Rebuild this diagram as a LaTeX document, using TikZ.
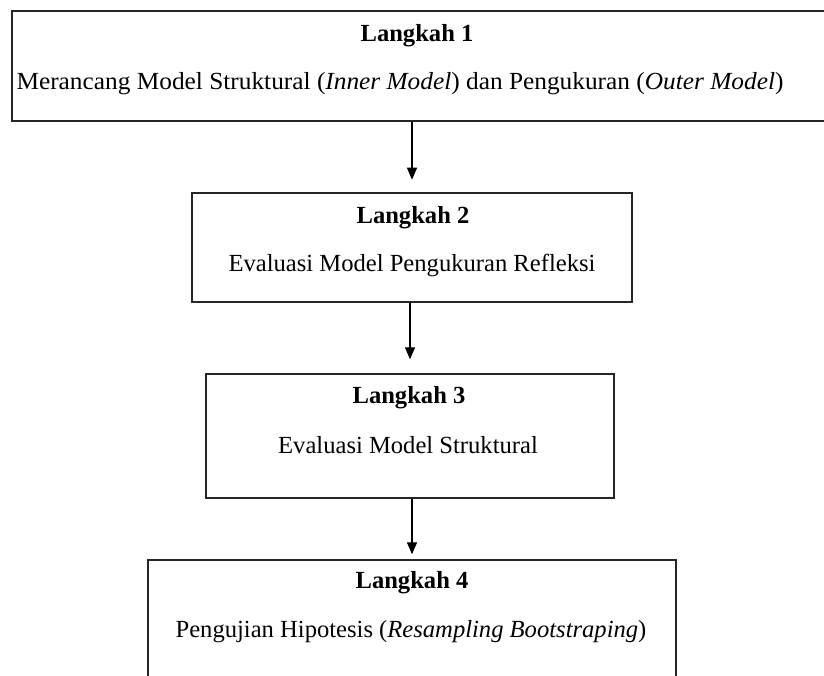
\documentclass[tikz,border=0pt]{standalone}
\usepackage{fontspec}
\setmainfont{Liberation Serif}
\usetikzlibrary{arrows.meta}
\def\stepfont{\fontsize{12.3pt}{15pt}\selectfont}
\tikzset{stepbox/.style={draw=black!85, line width=0.7pt, rectangle, inner sep=0pt},
  steptext/.style={font=\stepfont},
  steptitle/.style={font=\stepfont\bfseries}}
\def\boxnode{\node[stepbox]}
\def\drawflow{\draw[-{Triangle[length=6pt,width=5pt]}, line width=0.6pt]}

\begin{document}
\begin{tikzpicture}[x=0.5pt,y=-0.5pt]
\useasboundingbox (0,0) rectangle (824,675);
% kotak langkah
\boxnode[minimum width=409pt, minimum height=55pt] (box1) at (421,66) {};
\boxnode[minimum width=220pt, minimum height=54.5pt] (box2) at (412,247.5) {};
\boxnode[minimum width=204pt, minimum height=62pt] (box3) at (410,436) {};
\boxnode[minimum width=264pt, minimum height=70pt] (box4) at (412,630) {};
% teks
\node[steptitle] (lang1) at (417,36) {Langkah 1};
\node[steptext] (desc1) at (400,84) {\scalebox{1.03}[1]{Merancang Model Struktural (\textit{Inner Model}) dan Pengukuran (\textit{Outer Model})}};
\node[steptitle] (lang2) at (413,218) {Langkah 2};
\node[steptext] (desc2) at (412,265) {Evaluasi Model Pengukuran Refleksi};
\node[steptitle] (lang3) at (409,398) {Langkah 3};
\node[steptext] (desc3) at (408,445) {Evaluasi Model Struktural};
\node[steptitle] (lang4) at (412,583) {Langkah 4};
\node[steptext] (desc4) at (411,632) {Pengujian Hipotesis (\textit{Resampling Bootstraping})};
% panah
\drawflow[shorten >=6.3pt] (box1.south -| box2.north) -- (box2.north);
\drawflow[shorten >=7pt] (box2.south -| box3.north) -- (box3.north);
\drawflow[shorten >=2.5pt] (box3.south -| box4.north) -- (box4.north);
\end{tikzpicture}
\end{document}
